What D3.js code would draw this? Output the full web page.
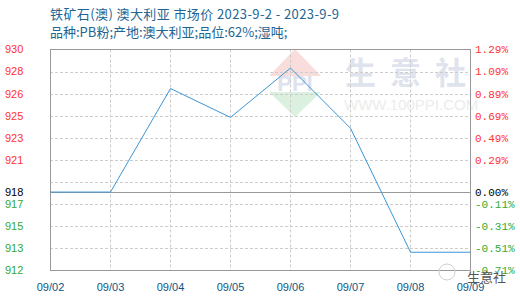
<!doctype html>
<html>
<head>
  <meta charset="utf-8">
  <title>铁矿石(澳) 市场价</title>
  <style>
    body { margin: 0; background: #fff; }
    svg { display: block; }
    .title { font-family: "Noto Sans CJK SC", "Noto Sans", sans-serif; font-size: 13px; fill: #226593; }
    .lab { font-family: "Liberation Sans", Arial, sans-serif; font-size: 11px; }
    .pct { font-family: "Liberation Mono", "DejaVu Sans Mono", monospace; font-size: 11px; }
  </style>
</head>
<body>
  <div id="chart"></div>
  <script src="https://d3js.org/d3.v7.min.js"></script>
  <script>
    const dates = ['09/02', '09/03', '09/04', '09/05', '09/06', '09/07', '09/08', '09/09'];
    const prices = [918, 918, 926.6, 924.2, 928.3, 923.3, 913, 913];
    const basePrice = 918;
    const pctTicks = [-0.71, -0.51, -0.31, -0.11, 0.09, 0.29, 0.49, 0.69, 0.89, 1.09, 1.29];
    const leftLabels = ['912', '913', '915', '917', '', '921', '923', '925', '926', '928', '930'];
    const rightLabels = ['-0.71%', '-0.51%', '-0.31%', '-0.11%', '', '0.29%', '0.49%', '0.69%', '0.89%', '1.09%', '1.29%'];

    const width = 520, height = 300;
    const plotLeft = 50, plotRight = 470, plotTop = 49.5, plotBottom = 270.5;

    const svg = d3.select('#chart').append('svg')
      .attr('width', width).attr('height', height);

    // 标题
    svg.append('text').attr('class', 'title').attr('x', 50).attr('y', 19)
      .style('letter-spacing', '0.4px')
      .text('铁矿石(澳) 澳大利亚 市场价 2023-9-2 - 2023-9-9');
    svg.append('text').attr('class', 'title').attr('x', 50).attr('y', 37)
      .text('品种:PB粉;产地:澳大利亚;品位:62%;湿吨;');

    const x = d3.scalePoint().domain(dates).range([plotLeft + 0.5, plotRight + 0.5]);
    const y = d3.scaleLinear().domain([pctTicks[0], pctTicks[pctTicks.length - 1]]).range([plotBottom, plotTop]);
    const pct = v => (v / basePrice - 1) * 100;
    const baseY = Math.floor(y(0)) + 0.5;

    // 水印
    const wm = svg.append('g');
    const cx = 295, cy = 82;
    wm.append('path').attr('d', `M${cx - 26},${cy - 6} L${cx},${cy - 33} L${cx + 26},${cy - 6} Z`).attr('fill', '#f9dcdc');
    wm.append('path').attr('d', `M${cx - 26},${cy + 10} L${cx},${cy + 35} L${cx + 26},${cy + 10} Z`).attr('fill', '#dcf0df');
    wm.append('text').attr('x', cx).attr('y', cy + 9).attr('text-anchor', 'middle')
      .style('font-family', 'Liberation Sans, sans-serif').style('font-size', '22px').style('font-weight', 'bold')
      .attr('fill', '#dde2ee').text('PPI');
    wm.selectAll('.wmc').data(['生', '意', '社']).join('text')
      .attr('x', (d, i) => 345 + i * 45).attr('y', 84)
      .style('font-family', 'Noto Sans CJK SC, sans-serif').style('font-size', '31px').style('font-weight', 'bold')
      .attr('fill', '#dfe3ee').text(d => d);
    wm.append('text').attr('x', 344).attr('y', 110)
      .style('font-family', 'Liberation Sans, sans-serif').style('font-size', '15px')
      .attr('fill', '#ececec').text('WWW.100PPI.COM');

    // 网格
    const grid = svg.append('g').attr('stroke', '#cccccc').attr('stroke-dasharray', '3,2');
    grid.selectAll('.hg').data(pctTicks.slice(1, -1)).join('line')
      .attr('x1', plotLeft).attr('x2', plotRight)
      .attr('y1', d => Math.round(y(d)) + 0.5).attr('y2', d => Math.round(y(d)) + 0.5);
    grid.selectAll('.vg').data(dates.slice(1, -1)).join('line')
      .attr('x1', d => x(d)).attr('x2', d => x(d))
      .attr('y1', plotTop).attr('y2', plotBottom);

    // 边框
    svg.append('rect').attr('x', plotLeft + 0.5).attr('y', plotTop).attr('width', plotRight - plotLeft).attr('height', plotBottom - plotTop)
      .attr('fill', 'none').attr('stroke', '#999');
    svg.append('line').attr('x1', plotLeft).attr('x2', plotRight).attr('y1', baseY).attr('y2', baseY)
      .attr('stroke', '#999');

    // 左轴标签
    svg.append('g').selectAll('text').data(pctTicks).join('text')
      .attr('class', 'lab').attr('x', 5).attr('y', d => y(d)).attr('dy', '0.35em')
      .attr('fill', d => d > 0 ? '#ff3333' : '#33aa33')
      .text((d, i) => leftLabels[i]);
    svg.append('text').attr('class', 'lab').attr('x', 5).attr('y', baseY).attr('dy', '0.35em')
      .attr('fill', '#000').text(basePrice);

    // 右轴标签
    svg.append('g').selectAll('text').data(pctTicks).join('text')
      .attr('class', 'pct').attr('x', 475).attr('y', d => y(d)).attr('dy', '0.35em')
      .attr('fill', d => d > 0 ? '#ff3333' : '#33aa33')
      .text((d, i) => rightLabels[i]);
    svg.append('text').attr('class', 'pct').attr('x', 475).attr('y', baseY).attr('dy', '0.35em')
      .attr('fill', '#000').text('0.00%');

    // X轴标签
    svg.append('g').selectAll('text').data(dates).join('text')
      .attr('class', 'lab').attr('x', d => x(d)).attr('y', 291).attr('text-anchor', 'middle')
      .attr('fill', '#0d5586').text(d => d);

    // 折线
    const line = d3.line().x((d, i) => x(dates[i])).y(d => y(pct(d)));
    svg.append('path').datum(prices).attr('d', line)
      .attr('fill', 'none').attr('stroke', '#3a96d6').attr('stroke-width', 1);

    // 右下角标识
    svg.append('circle').attr('cx', 447).attr('cy', 272).attr('r', 8)
      .attr('fill', 'none').attr('stroke', '#cfcfcf');
    svg.append('text').attr('x', 467).attr('y', 282)
      .style('font-family', 'Noto Sans CJK SC, sans-serif').style('font-size', '13px')
      .attr('fill', '#555').text('生意社');
  </script>
</body>
</html>
